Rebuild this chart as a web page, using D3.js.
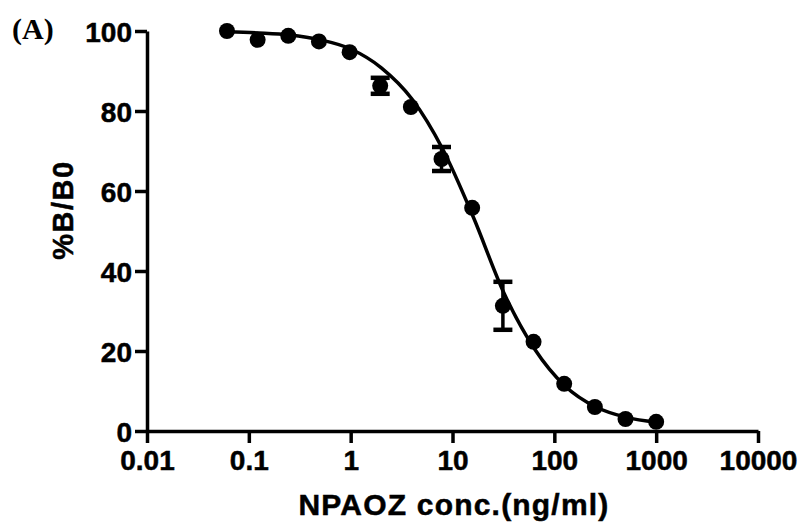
<!DOCTYPE html>
<html>
<head>
<meta charset="utf-8">
<script src="https://cdn.jsdelivr.net/npm/d3@7"></script>
<style>
  body { margin: 0; background: #fff; }
  svg { display: block; }
  .axis path, .axis line { stroke: #000; stroke-width: 3.5; }
  .axis text { font-family: "Liberation Sans", Arial, sans-serif; font-weight: bold; font-size: 28px; fill: #000; stroke: #000; stroke-width: 0.5; }
</style>
</head>
<body>
<div id="chart"></div>
<script>
// Measured points (concentration, %B/B0, error)
const conc = [0.061, 0.122, 0.244, 0.488, 0.977, 1.95, 3.9, 7.8, 15.6, 31.25, 62.5, 125, 250, 500, 1000];
const bb0 = [100, 97.8, 98.8, 97.4, 94.7, 86.3, 81, 68, 55.8, 31.3, 22.3, 11.8, 6, 3, 2.3];
const errs = [0, 0, 0, 0, 0, 2, 0, 3, 0, 6, 0, 0, 0, 0, 0];

// Fitted curve
const fitConc = [0.061, 0.125, 0.25, 0.5, 1, 2, 4, 8, 16, 32, 64, 128, 256, 512, 1000];
const fitVals = [99.8, 99.5, 99, 97.8, 95.5, 90.8, 83, 70.5, 53.5, 34.5, 20.5, 11.2, 6, 3.4, 2.2];

// Axis ticks
const xTicks = [0.01, 0.1, 1, 10, 100, 1000, 10000];
const xTickLabels = ["0.01", "0.1", "1", "10", "100", "1000", "10000"];
const yTicks = [0, 20, 40, 60, 80, 100];

const margin = { top: 31, right: 41, bottom: 96, left: 147 };
const width = 799 - margin.left - margin.right;
const height = 527 - margin.top - margin.bottom;

const svg = d3.select("#chart")
    .append("svg")
    .attr("width", 799)
    .attr("height", 527);

const g = svg.append("g")
    .attr("transform", `translate(${margin.left},${margin.top})`);

const x = d3.scaleLog()
    .domain([0.01, 10000])
    .range([0, width]);

const y = d3.scaleLinear()
    .domain([0, 100])
    .range([height, 0]);

// X axis
const xAxis = g.append("g")
    .attr("class", "axis")
    .attr("transform", `translate(0,${height})`)
    .call(d3.axisBottom(x)
        .tickValues(xTicks)
        .tickFormat((d, i) => xTickLabels[i])
        .tickSize(12)
        .tickSizeOuter(0)
        .tickPadding(5));
xAxis.selectAll("text").attr("dy", "0.78em");

// Y axis
g.append("g")
    .attr("class", "axis")
    .call(d3.axisLeft(y)
        .tickValues(yTicks)
        .tickSize(12)
        .tickSizeOuter(0)
        .tickPadding(3))
    .selectAll("text")
    .attr("dy", "0.36em");

// Fitted curve
const pts = fitConc.map((c, i) => ({ c, v: fitVals[i] }));
g.append("path")
    .datum(pts)
    .attr("fill", "none")
    .attr("stroke", "#000")
    .attr("stroke-width", 3.5)
    .attr("d", d3.line()
        .x(d => x(d.c))
        .y(d => y(d.v))
        .curve(d3.curveMonotoneX));

const data = conc.map((c, i) => ({ c, v: bb0[i], e: errs[i] }));

// Error bars
const eb = g.selectAll(".err")
    .data(data.filter(d => d.e > 0))
    .enter().append("g")
    .attr("class", "err");
eb.append("line")
    .attr("x1", d => x(d.c)).attr("x2", d => x(d.c))
    .attr("y1", d => y(d.v + d.e)).attr("y2", d => y(d.v - d.e))
    .attr("stroke", "#000").attr("stroke-width", 3.5);
[1, -1].forEach(s => {
    eb.append("line")
        .attr("x1", d => x(d.c) - 9.5).attr("x2", d => x(d.c) + 9.5)
        .attr("y1", d => y(d.v + s * d.e)).attr("y2", d => y(d.v + s * d.e))
        .attr("stroke", "#000").attr("stroke-width", 4.5);
});

// Points
g.selectAll(".dot")
    .data(data)
    .enter().append("circle")
    .attr("class", "dot")
    .attr("cx", d => x(d.c))
    .attr("cy", d => y(d.v))
    .attr("r", 8)
    .attr("fill", "#000");

// Axis titles
svg.append("text")
    .attr("x", 454)
    .attr("y", 515)
    .attr("text-anchor", "middle")
    .style("font-family", "'Liberation Sans', Arial, sans-serif")
    .style("font-weight", "bold")
    .style("font-size", "30px")
    .style("letter-spacing", "1.2px")
    .style("stroke", "#000")
    .style("stroke-width", "0.5px")
    .text("NPAOZ conc.(ng/ml)");

svg.append("text")
    .attr("transform", "rotate(-90)")
    .attr("x", -210)
    .attr("y", 73)
    .attr("text-anchor", "middle")
    .style("font-family", "'Liberation Sans', Arial, sans-serif")
    .style("font-weight", "bold")
    .style("font-size", "29px")
    .style("letter-spacing", "1.5px")
    .style("stroke", "#000")
    .style("stroke-width", "0.5px")
    .text("%B/B0");

// Panel label
svg.append("text")
    .attr("x", 12)
    .attr("y", 39)
    .style("font-family", "'Liberation Serif', 'Times New Roman', serif")
    .style("font-weight", "bold")
    .style("font-size", "30px")
    .text("(A)");
</script>
</body>
</html>
